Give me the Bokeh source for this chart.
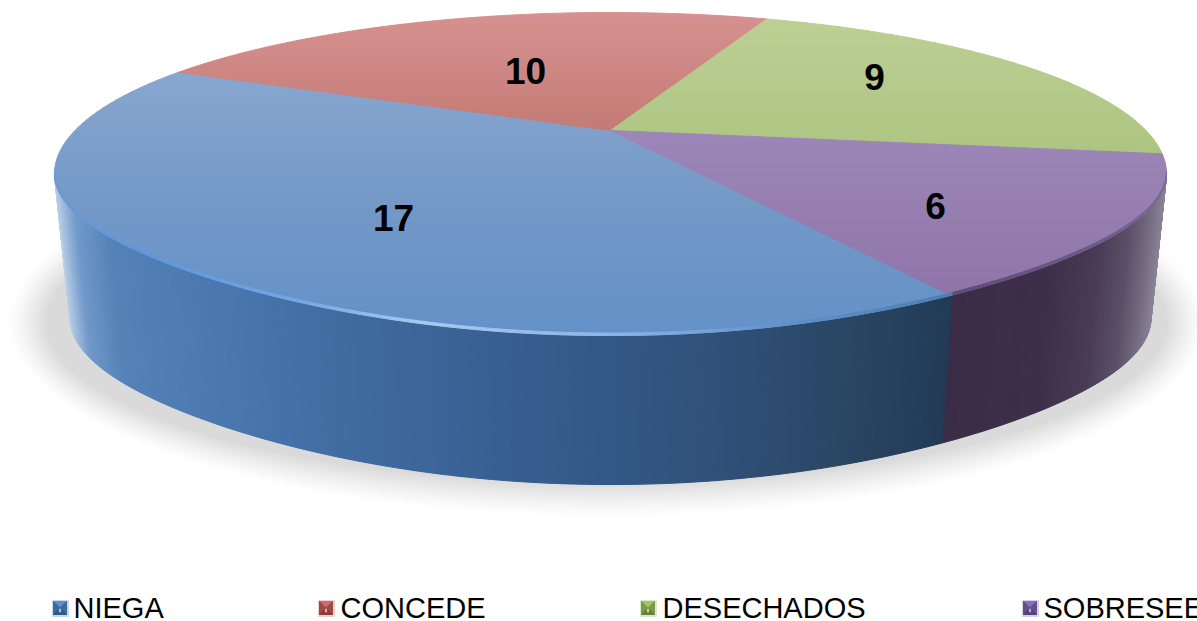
import math
from bokeh.embed import file_html
from bokeh.resources import INLINE
from bokeh.plotting import figure
from bokeh.models import Range1d, ColumnDataSource
from bokeh.core.properties import value as V

categories = ["NIEGA", "CONCEDE", "DESECHADOS", "SOBRESEE"]
values = [17, 10, 9, 6]

# --- styling ---
START_DEG = -60.0       # where the first slice starts; slices run clockwise
CX, APEX_Y, K, A, B = 610.0, 130.0, 0.2694, 535.5, 149.8
TOP_STOPS = [
    [(70, "#88a7d0"), (200, "#7499c7"), (335, "#6391c8")],
    [(12, "#d69290"), (130, "#c47b76")],
    [(18, "#bdd094"), (150, "#adc583")],
    [(130, "#9c87b8"), (300, "#8f74a8")],
]
WALL_STOPS = [
    [(54, "#c0d2e8"), (62, "#a0bcde"), (75, "#7199ca"), (110, "#5482b8"), (300, "#426fa6"),
     (500, "#385f91"), (700, "#30527c"), (850, "#2a4664"), (950, "#223a56")],
    None, None,
    [(950, "#3a2b47"), (1050, "#3d2e49"), (1100, "#4a3c56"), (1130, "#5c5068"), (1150, "#736a80"), (1165, "#8a8296")],
]
RIM_STOPS = [
    [(54, "#6a9ad6"), (150, "#5f97de"), (300, "#74a6e6"), (420, "#a9caf2"), (600, "#8fb6e8"), (800, "#5e90c8"), (950, "#4d80ae")],
    None, None,
    [(950, "#604a78"), (1100, "#6f5a88"), (1165, "#7d6a98")],
]
# top, sides, bottom, edge, centre sliver
LEGEND_COL = [
    ("#5f8fc8", "#3f6a9c", "#2f5a88", "#c8d8ea", "#a8c4e0"),
    ("#d06a66", "#a04a48", "#8a3e3c", "#ecd0cf", "#e8b0ae"),
    ("#a0c468", "#7c9a48", "#64803a", "#dde8c8", "#c8dca0"),
    ("#8a70b8", "#65508c", "#54427a", "#d8d0e6", "#b8a8d4"),
]
LEGEND_MARK_X = [52, 318, 640, 1022]
LEGEND_TEXT_X = [73, 340, 662, 1043]
LABEL_POS = [(393, 217), (525, 70), (874, 76), (935, 205)]


def hex2(c):
    return [int(c[i:i + 2], 16) for i in (1, 3, 5)]


def lerp(stops, t):
    if t <= stops[0][0]:
        return stops[0][1]
    if t >= stops[-1][0]:
        return stops[-1][1]
    for (a, ca), (b, cb) in zip(stops, stops[1:]):
        if a <= t <= b:
            f = (t - a) / (b - a)
            x, y = hex2(ca), hex2(cb)
            return "#%02x%02x%02x" % tuple(round(x[i] + (y[i] - x[i]) * f) for i in range(3))


LEFT, RIGHT = 180 + 15.63, 360 - 15.63


def proj(deg):
    d = deg % 360
    r = 1.0
    if LEFT < d < RIGHT:   # the front edge runs a little inside a true ellipse
        r -= 0.022 * math.sin(math.radians(2.4 * (d - 270))) ** 2
    X, Y = r * math.cos(math.radians(deg)), r * math.sin(math.radians(deg))
    w = 1 + K * Y
    return CX + A * X / w, APEX_Y - B * Y / w


def bottom(x, y):
    return CX + (x - CX) * 0.972, 484 - 166 + (y - 173.5) * 1.028


def clip(poly, a, b):
    def half(pts, keep, inter):
        out = []
        for i in range(len(pts)):
            p, q = pts[i], pts[(i + 1) % len(pts)]
            if keep(p):
                out.append(p)
            if keep(p) != keep(q):
                out.append(inter(p, q))
        return out
    def cut(level):
        return lambda p, q: (p[0] + (q[0] - p[0]) * (level - p[1]) / (q[1] - p[1]), level)
    r = half(poly, lambda p: p[1] >= a, cut(a))
    if r:
        r = half(r, lambda p: p[1] <= b, cut(b))
    return r


total = sum(values)
edges = [START_DEG]
for v in values:
    edges.append(edges[-1] - v / total * 360)

p = figure(width=1197, height=621, x_range=Range1d(0, 1197), y_range=Range1d(621, 0),
           x_axis_type=None, y_axis_type=None, toolbar_location=None, output_backend="svg",
           min_border=0, outline_line_color=None, background_fill_color="white",
           margin=(0, 0, 0, 0))
p.grid.visible = False

XS, YS, CS = [], [], []


def add(pts, c):
    XS.append([q[0] for q in pts])
    YS.append([q[1] for q in pts])
    CS.append(c)


def slice_of(m):
    for i in range(len(values)):
        lo, hi = edges[i + 1], edges[i]
        if any(lo <= m + k * 360 <= hi for k in (-2, -1, 0, 1)):
            return i


# shadow: stacked soft ellipses
N = 26
for i in range(N):
    f = i / (N - 1)
    grow = 1 - f
    rx, ry = 560 + 40 * grow, 160 + 36 * grow
    g = round(255 - (255 - 218) * f ** 1.3)
    add([(606 + rx * math.cos(t / 60 * math.pi), 322 + ry * math.sin(t / 60 * math.pi)) for t in range(120)],
        "#%02x%02x%02x" % (g, g, g))

# walls
steps = 300
for s in range(steps):
    d0 = LEFT + (RIGHT - LEFT) * s / steps
    d1 = LEFT + (RIGHT - LEFT) * (s + 1) / steps
    idx = slice_of((d0 + d1) / 2)
    a, b = proj(d0), proj(d1)
    add([a, b, bottom(*b), bottom(*a)], lerp(WALL_STOPS[idx], (a[0] + b[0]) / 2))

# top surface
for i in range(len(values)):
    n = max(2, int(abs(edges[i] - edges[i + 1])))
    poly = [(CX, APEX_Y)] + [proj(edges[i] + (edges[i + 1] - edges[i]) * j / n) for j in range(n + 1)]
    ymin, ymax = min(q[1] for q in poly), max(q[1] for q in poly)
    y = ymin
    while y < ymax:
        c = clip(poly, y, y + 4)
        if len(c) >= 3:
            add(c, lerp(TOP_STOPS[i], y + 2))
        y += 4

# rim highlight: a thin band just above the front edge
for s in range(steps):
    d0 = LEFT + (RIGHT - LEFT) * s / steps
    d1 = LEFT + (RIGHT - LEFT) * (s + 1) / steps
    idx = slice_of((d0 + d1) / 2)
    a, b = proj(d0), proj(d1)
    add([a, b, (b[0], b[1] - 2.5), (a[0], a[1] - 2.5)], lerp(RIM_STOPS[idx], (a[0] + b[0]) / 2))

# legend markers
for i, c in enumerate(LEGEND_COL):
    x0, y0, s = LEGEND_MARK_X[i], 600, 16
    add([(x0, y0), (x0 + s, y0), (x0 + s, y0 + s), (x0, y0 + s)], c[3])
    x1, y1, t = x0 + 1, y0 + 1, s - 3
    mid = (x1 + t / 2, y1 + t / 2)
    tl, tr, br, bl = (x1, y1), (x1 + t, y1), (x1 + t, y1 + t), (x1, y1 + t)
    add([tl, tr, mid], c[0])
    add([tl, mid, bl], c[1])
    add([tr, br, mid], c[1])
    add([bl, br, mid], c[2])
    add([(mid[0] - 0.6, mid[1] + 1), (mid[0] + 0.6, mid[1] + 1), (mid[0] + 0.6, mid[1] + 4), (mid[0] - 0.6, mid[1] + 4)], c[4])

src = ColumnDataSource(dict(xs=XS, ys=YS, c=CS))
p.patches("xs", "ys", source=src, fill_color="c", line_color="c", line_width=1.0)

# value labels
p.text(x=[q[0] for q in LABEL_POS], y=[q[1] for q in LABEL_POS], text=[str(v) for v in values],
       text_font=V("Liberation Sans"), text_font_style="bold", text_font_size="37px",
       text_align="center", text_baseline="middle", text_color="black")
# legend text
p.text(x=LEGEND_TEXT_X, y=[607] * 4, text=categories, text_font=V("Liberation Sans"),
       text_font_size="29px", text_align="left", text_baseline="middle", text_color="black")

open("out.html", "w").write(file_html(p, INLINE).replace("<head>", "<head><style>html,body{margin:0;padding:0;overflow:hidden}</style>", 1))
